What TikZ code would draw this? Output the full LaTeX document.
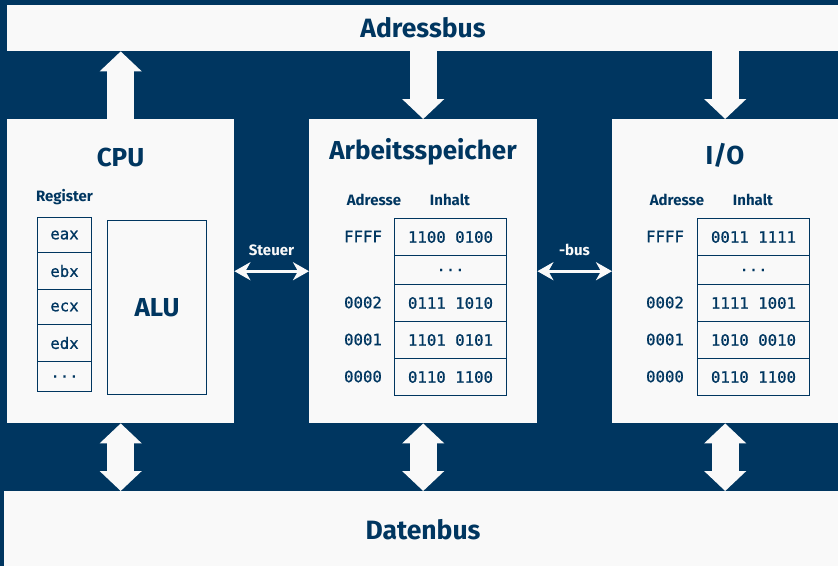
\documentclass[tikz,border=0pt]{standalone}
\usepackage{fontspec}
\setmainfont{Fira Sans}
\setmonofont{DejaVu Sans Mono}[UprightFeatures={FakeBold=0.8}]
\usetikzlibrary{arrows.meta}
\definecolor{navy}{HTML}{003660}
\definecolor{paper}{HTML}{F9F9F9}
\begin{document}
\begin{tikzpicture}[x=1pt,y=-1pt,
  panel/.style={fill=paper, draw=none, inner sep=0pt, anchor=north west},
  cell/.style={draw=navy, line width=1pt, fill=paper, inner sep=0pt, anchor=north west,
    text=navy, font=\ttfamily\fontsize{15.7}{15.7}\selectfont},
  title/.style={text=navy, font=\bfseries\fontsize{26}{26}\selectfont},
  buslabel/.style={text=navy, font=\bfseries\fontsize{26.5}{26.5}\selectfont},
  head/.style={text=navy, font=\bfseries\fontsize{15}{15}\selectfont},
  addr/.style={text=navy, font=\ttfamily\fontsize{15.7}{15.7}\selectfont},
  ctrl/.style={text=paper, font=\bfseries\fontsize{15}{15}\selectfont},
  fatup/.style={draw=paper, line width=27pt, -{Triangle[length=20pt,width=41pt]}},
  fatboth/.style={draw=paper, line width=27pt, {Triangle[length=20pt,width=41pt]}-{Triangle[length=20pt,width=41pt]}},
  thinboth/.style={draw=paper, line width=3pt, {Stealth[length=16pt,width=18pt,inset=5pt]}-{Stealth[length=16pt,width=18pt,inset=5pt]}},
]
% background
\useasboundingbox (0,0) rectangle (838,566);
\fill[navy] (0,0) rectangle (838,566);

% buses
\node[panel, minimum width=831pt, minimum height=46pt] (abus) at (7,5) {};
\node[buslabel] at (423,28) {Adressbus};
\node[panel, minimum width=834pt, minimum height=75pt] (dbus) at (4,491) {};
\node[buslabel] at (423,530) {Datenbus};

% main units
\node[panel, minimum width=227pt, minimum height=304pt] (cpu) at (7,119) {};
\node[panel, minimum width=228pt, minimum height=304pt] (mem) at (309,119) {};
\node[panel, minimum width=226pt, minimum height=304pt] (io) at (612,119) {};

\node[title] at (120.5,157) {CPU};
\node[title] at (423,152) {Arbeitsspeicher};
\node[title] at (725,155) {I/O};

% CPU internals
\node[head] at (64.5,197) {Register};
\node[cell, minimum width=54pt, minimum height=35pt] (r1) at (37,217) {eax};
\node[cell, minimum width=54pt, minimum height=37pt] (r2) at (37,252) {ebx};
\node[cell, minimum width=54pt, minimum height=35pt] (r3) at (37,289) {ecx};
\node[cell, minimum width=54pt, minimum height=37pt] (r4) at (37,324) {edx};
\node[cell, minimum width=54pt, minimum height=30pt] (r5) at (37,361) {...};
\node[cell, minimum width=99pt, minimum height=174pt, font=\bfseries\fontsize{26}{26}\selectfont] (alu) at (107,220) {ALU};

% memory table
\node[head] at (374,200) {Adresse};
\node[head] at (450,200) {Inhalt};
\node[cell, minimum width=112pt, minimum height=37pt] (m1) at (394,218) {1100 0100};
\node[cell, minimum width=112pt, minimum height=29pt] (m2) at (394,255) {...};
\node[cell, minimum width=112pt, minimum height=37pt] (m3) at (394,284) {0111 1010};
\node[cell, minimum width=112pt, minimum height=37pt] (m4) at (394,321) {1101 0101};
\node[cell, minimum width=112pt, minimum height=37pt] (m5) at (394,358) {0110 1100};
\node[addr] at (363,236.5) {FFFF};
\node[addr] at (363,302.5) {0002};
\node[addr] at (363,339.5) {0001};
\node[addr] at (363,376.5) {0000};

% I/O table
\node[head] at (677,200) {Adresse};
\node[head] at (753,200) {Inhalt};
\node[cell, minimum width=112pt, minimum height=37pt] (i1) at (697,218) {0011 1111};
\node[cell, minimum width=112pt, minimum height=29pt] (i2) at (697,255) {...};
\node[cell, minimum width=112pt, minimum height=37pt] (i3) at (697,284) {1111 1001};
\node[cell, minimum width=112pt, minimum height=37pt] (i4) at (697,321) {1010 0010};
\node[cell, minimum width=112pt, minimum height=37pt] (i5) at (697,358) {0110 1100};
\node[addr] at (665,236.5) {FFFF};
\node[addr] at (665,302.5) {0002};
\node[addr] at (665,339.5) {0001};
\node[addr] at (665,376.5) {0000};

% address bus connections
\draw[fatup] (cpu.north) -- (cpu.north |- abus.south);
\draw[fatup] (mem.north |- abus.south) -- (mem.north);
\draw[fatup] (io.north |- abus.south) -- (io.north);

% data bus connections
\draw[fatboth] (cpu.south) -- (cpu.south |- dbus.north);
\draw[fatboth] (mem.south) -- (mem.south |- dbus.north);
\draw[fatboth] (io.south) -- (io.south |- dbus.north);

% control bus
\draw[thinboth] (cpu.east) -- (mem.west);
\draw[thinboth] (mem.east) -- (io.west);
\node[ctrl] at (271.5,250) {Steuer};
\node[ctrl] at (574.5,250) {-bus};
\end{tikzpicture}
\end{document}
